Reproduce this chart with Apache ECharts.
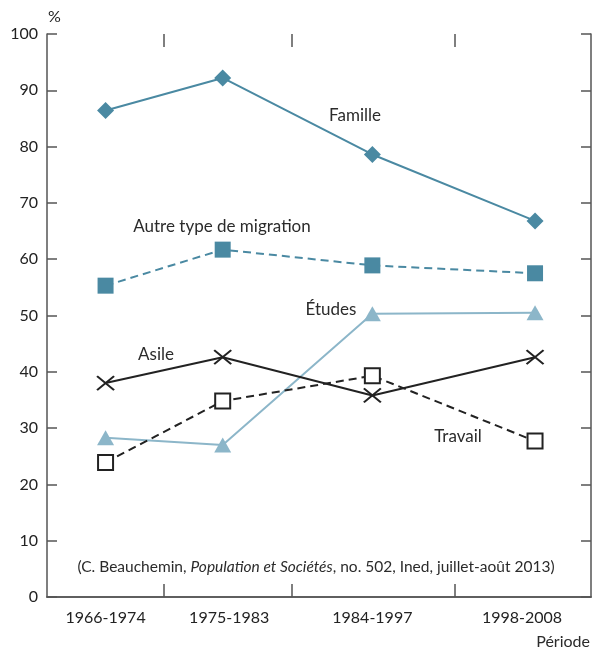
<!DOCTYPE html>
<html>
<head>
<meta charset="utf-8">
<script src="https://cdn.jsdelivr.net/npm/echarts@6/dist/echarts.min.js"></script>
<style>
  html, body { margin: 0; padding: 0; background: #fff; }
  #chart { width: 593px; height: 650px; }
</style>
</head>
<body>
<div id="chart"></div>
<script>
const periods = ["1966-1974", "1975-1983", "1984-1997", "1998-2008"];
const periodMid = [1970, 1979, 1990.5, 2003];
const labelAt = [1970, 1979.5, 1990.5, 2002];
const tickAt = [1974.5, 1984.3, 1996.8];

const famille = [86.4, 92.2, 78.6, 66.8];
const autre = [55.3, 61.7, 58.9, 57.5];
const etudes = [28.3, 27.0, 50.3, 50.5];
const asile = [38.0, 42.6, 35.8, 42.6];
const travail = [23.9, 34.8, 39.3, 27.7];

const colors = {
  blue: "#4a89a2",
  light: "#8cb6c9",
  dark: "#222222",
  axis: "#555555",
  text: "#2b2b2b",
};
const font = "Lato";

const pts = (vals) => periodMid.map((x, i) => [x, vals[i]]);

// inward ticks on the top and bottom edges, ~13px long (2.3 units of the y scale)
const tickLen = 2.3;
const tickMarks = [];
tickAt.forEach((x) => {
  tickMarks.push([{ coord: [x, 0] }, { coord: [x, tickLen] }]);
  tickMarks.push([{ coord: [x, 100] }, { coord: [x, 100 - tickLen] }]);
});

const chart = echarts.init(document.getElementById("chart"), null, { renderer: "canvas" });

const axisLine = { show: true, lineStyle: { color: colors.axis, width: 1.5 } };

const note = (text, x, y) => ({
  type: "text",
  x: x,
  y: y,
  style: { text: text, fontSize: 17, fontFamily: font, fill: colors.text, align: "center", verticalAlign: "middle" },
});

const options = {
  animation: false,
  grid: { left: 47, right: 2, top: 34, bottom: 53 },
  xAxis: [
    {
      type: "value",
      min: 1965.5,
      max: 2007.3,
      position: "bottom",
      splitLine: { show: false },
      axisLine: axisLine,
      axisTick: { show: false },
      axisLabel: {
        customValues: labelAt,
        formatter: (v) => periods[labelAt.indexOf(v)],
        margin: 13,
        color: colors.dark,
        fontSize: 16,
        fontFamily: font,
      },
    },
    {
      type: "value",
      min: 1965.5,
      max: 2007.3,
      position: "top",
      splitLine: { show: false },
      axisLine: axisLine,
      axisTick: { show: false },
      axisLabel: { show: false },
    },
  ],
  yAxis: [
    {
      type: "value",
      min: 0,
      max: 100,
      interval: 10,
      position: "left",
      splitLine: { show: false },
      axisLine: axisLine,
      axisTick: { show: true, inside: true, length: 10, lineStyle: { color: colors.axis, width: 1.5 } },
      axisLabel: { margin: 9, color: colors.dark, fontSize: 16, fontFamily: font },
    },
    {
      type: "value",
      min: 0,
      max: 100,
      interval: 10,
      position: "right",
      splitLine: { show: false },
      axisLine: axisLine,
      axisTick: { show: true, inside: true, length: 10, lineStyle: { color: colors.axis, width: 1.5 } },
      axisLabel: { show: false },
    },
  ],
  series: [
    {
      name: "ticks",
      type: "line",
      data: [],
      silent: true,
      markLine: {
        silent: true,
        symbol: "none",
        label: { show: false },
        lineStyle: { color: colors.axis, width: 1.5, type: "solid" },
        data: tickMarks,
      },
    },
    {
      name: "Famille",
      type: "line",
      data: pts(famille),
      symbol: "diamond",
      symbolSize: 17,
      lineStyle: { color: colors.blue, width: 2 },
      itemStyle: { color: colors.blue },
    },
    {
      name: "Autre type de migration",
      type: "line",
      data: pts(autre),
      symbol: "rect",
      symbolSize: 16,
      lineStyle: { color: colors.blue, width: 2, type: [8, 5] },
      itemStyle: { color: colors.blue },
    },
    {
      name: "Études",
      type: "line",
      data: pts(etudes),
      symbol: "triangle",
      symbolSize: [17, 15],
      lineStyle: { color: colors.light, width: 2 },
      itemStyle: { color: colors.light },
    },
    {
      name: "Asile",
      type: "line",
      data: pts(asile),
      symbol: "path://M0,0L10,8M10,0L0,8",
      symbolSize: [17, 14],
      lineStyle: { color: colors.dark, width: 2 },
      itemStyle: { color: "none", borderColor: colors.dark, borderWidth: 2 },
    },
    {
      name: "Travail",
      type: "line",
      data: pts(travail),
      symbol: "rect",
      symbolSize: 15,
      lineStyle: { color: colors.dark, width: 2, type: [8, 5] },
      itemStyle: { color: "#ffffff", borderColor: colors.dark, borderWidth: 2 },
    },
  ],
  graphic: [
    { type: "text", left: 48, top: 9, style: { text: "%", fontSize: 16, fontFamily: font, fill: colors.dark } },
    { type: "text", right: 3, top: 634, style: { text: "Période", fontSize: 16, fontFamily: font, fill: colors.text } },
    note("Famille", 355, 116),
    note("Autre type de migration", 222, 227),
    note("Études", 331, 310),
    note("Asile", 156, 355),
    note("Travail", 458, 437),
    {
      type: "text",
      x: 316,
      y: 567,
      style: {
        text: "(C. Beauchemin, {i|Population et Sociétés}, no. 502, Ined, juillet-août 2013)",
        fontSize: 15.5,
        fontFamily: font,
        fill: colors.text,
        align: "center",
        verticalAlign: "middle",
        rich: { i: { fontStyle: "italic", fontSize: 15.5, fontFamily: font, fill: colors.text } },
      },
    },
  ],
};

chart.setOption(options);
</script>
</body>
</html>
